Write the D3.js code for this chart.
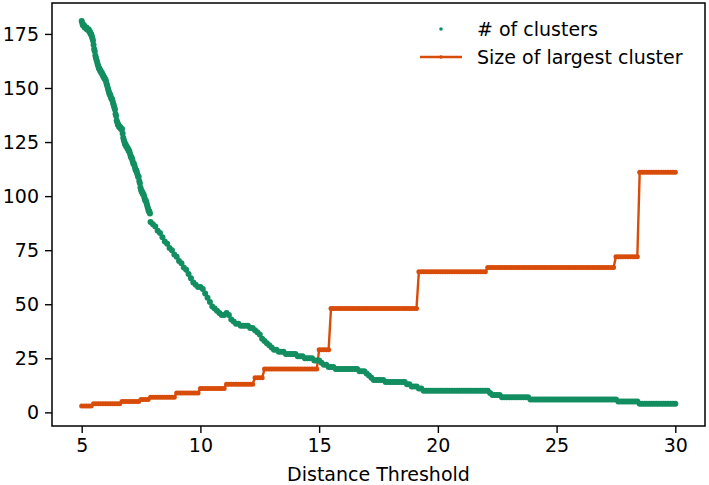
<!DOCTYPE html>
<html>
<head>
<meta charset="utf-8">
<script src="https://cdn.jsdelivr.net/npm/d3@7"></script>
<style>
  body { margin: 0; background: #fff; }
  #chart { width: 709px; height: 485px; }
  text { font-family: "DejaVu Sans", sans-serif; fill: #000; }
</style>
</head>
<body>
<div id="chart"></div>
<script>
// Distance thresholds: every 0.1 from 5 to 30 (largest cluster series)
let thresholds = d3.range(251).map(i => 5 + i / 10)

// Cluster counts are sampled finer where the curve is steep (5 - 7.875 every 0.025),
// then every 0.1 from 7.9 to 30
let countThresholds = d3.range(116).map(i => 5 + i * 0.025)
                        .concat(d3.range(222).map(i => 7.9 + i / 10))

// Number of clusters
let clusterCounts = [
  // 5.000 - 7.875, step 0.025
  181,180,179,179, 179,178,178,178, 178,177,177,177, 177,176,176,175,
  175,174,173,172, 170,168,167,165, 164,163,162,161, 160,159,159,158,
  158,157,157,156, 156,155,155,154, 154,153,152,151, 150,149,148,147,
  147,146,145,145, 144,143,142,141, 140,138,137,135, 134,133,133,132,
  132,132,131,131, 131,129,127,126, 125,124,124,123, 123,122,122,121,
  121,120,119,118, 118,117,116,115, 115,114,113,112, 112,111,110,109,
  109,107,106,104, 103,102,102,101, 101,100,99,98, 98,97,96,95,
  94,93,93,92,
  // 7.9 - 30.0, step 0.1
  88,
  87,86,84,83,81,79,78,76,75,73,
  72,70,69,67,66,64,62,60,59,58,
  58,57,55,53,51,49,48,47,46,45,
  45,46,45,43,42,41,41,40,40,40,
  40,39,39,38,37,36,34,33,32,31,
  30,29,29,28,28,28,27,27,27,27,
  27,26,26,26,25,25,25,25,24,24,
  24,23,22,22,21,21,21,20,20,20,
  20,20,20,20,20,20,20,19,19,19,
  18,17,16,15,15,15,15,15,14,14,
  14,14,14,14,14,14,14,13,13,12,
  12,12,11,11,10,10,10,10,10,10,
  10,10,10,10,10,10,10,10,10,10,
  10,10,10,10,10,10,10,10,10,10,
  10,10,9,8,8,8,8,7,7,7,
  7,7,7,7,7,7,7,7,7,6,
  6,6,6,6,6,6,6,6,6,6,
  6,6,6,6,6,6,6,6,6,6,
  6,6,6,6,6,6,6,6,6,6,
  6,6,6,6,6,6,5,5,5,5,
  5,5,5,5,5,4,4,4,4,4,
  4,4,4,4,4,4,4,4,4,4,
  4
]

// Size of the largest cluster at each threshold
let largestSizes = [
  3,3,3,3,3,4,4,4,4,4,
  4,4,4,4,4,4,4,5,5,5,
  5,5,5,5,5,6,6,6,6,7,
  7,7,7,7,7,7,7,7,7,7,
  9,9,9,9,9,9,9,9,9,9,
  11,11,11,11,11,11,11,11,11,11,
  11,13,13,13,13,13,13,13,13,13,
  13,13,13,16,16,16,16,20,20,20,
  20,20,20,20,20,20,20,20,20,20,
  20,20,20,20,20,20,20,20,20,20,
  29,29,29,29,29,48,48,48,48,48,
  48,48,48,48,48,48,48,48,48,48,
  48,48,48,48,48,48,48,48,48,48,
  48,48,48,48,48,48,48,48,48,48,
  48,48,65,65,65,65,65,65,65,65,
  65,65,65,65,65,65,65,65,65,65,
  65,65,65,65,65,65,65,65,65,65,
  65,67,67,67,67,67,67,67,67,67,
  67,67,67,67,67,67,67,67,67,67,
  67,67,67,67,67,67,67,67,67,67,
  67,67,67,67,67,67,67,67,67,67,
  67,67,67,67,67,67,67,67,67,67,
  67,67,67,67,67,72,72,72,72,72,
  72,72,72,72,72,111,111,111,111,111,
  111,111,111,111,111,111,111,111,111,111,
  111
]

let xTicks = [5, 10, 15, 20, 25, 30]
let yTicks = [0, 25, 50, 75, 100, 125, 150, 175]

let green = "#128e60"
let orange = "#d84c0a"

function makeChart() {
    let width = 709
    let height = 485
    let left = 52, right = 705, top = 3, bottom = 426

    const xScale = d3.scaleLinear().domain([3.75, 31.25]).range([left, right])
    const yScale = d3.scaleLinear().domain([-6.3, 189.3]).range([bottom, top])

    const svg = d3.select("#chart")
                .append("svg")
                .attr("width", width)
                .attr("height", height)

    // Orange step line with small markers
    let sizeData = thresholds.map((t, i) => [t, largestSizes[i]])
    const line = d3.line().x(d => xScale(d[0])).y(d => yScale(d[1]))

    svg.append("path")
       .datum(sizeData)
       .attr("d", line)
       .attr("fill", "none")
       .attr("stroke", orange)
       .attr("stroke-width", 2.4)

    svg.selectAll("circle.size")
       .data(sizeData)
       .enter()
       .append("circle")
       .attr("class", "size")
       .attr("cx", d => xScale(d[0]))
       .attr("cy", d => yScale(d[1]))
       .attr("r", 2.5)
       .attr("fill", orange)

    // Green dots: number of clusters
    let countData = countThresholds.map((t, i) => [t, clusterCounts[i]])
    svg.selectAll("circle.count")
       .data(countData)
       .enter()
       .append("circle")
       .attr("class", "count")
       .attr("cx", d => xScale(d[0]))
       .attr("cy", d => yScale(d[1]))
       .attr("r", 3)
       .attr("fill", green)

    // Axes
    const xAxis = d3.axisBottom(xScale).tickValues(xTicks).tickSize(7).tickPadding(6).tickFormat(d3.format("d"))
    const yAxis = d3.axisLeft(yScale).tickValues(yTicks).tickSize(7).tickPadding(6).tickFormat(d3.format("d"))

    let gx = svg.append("g")
       .attr("transform", "translate(0," + bottom + ")")
       .call(xAxis)
    let gy = svg.append("g")
       .attr("transform", "translate(" + left + ",0)")
       .call(yAxis)

    for (let g of [gx, gy]) {
        g.select(".domain").remove()
        g.selectAll(".tick line").attr("stroke", "#000").attr("stroke-width", 1.4)
        g.selectAll(".tick text").attr("font-size", 19).attr("font-family", "DejaVu Sans").attr("fill", "#000")
    }

    // Frame around the plot
    svg.append("rect")
       .attr("x", left)
       .attr("y", top)
       .attr("width", right - left)
       .attr("height", bottom - top)
       .attr("fill", "none")
       .attr("stroke", "#000")
       .attr("stroke-width", 1.5)

    // X axis label
    svg.append("text")
       .attr("x", xScale(17.5))
       .attr("y", 481)
       .attr("text-anchor", "middle")
       .attr("font-size", 19)
       .text("Distance Threshold")

    // Legend
    let legend = svg.append("g")
    legend.append("circle").attr("cx", 441).attr("cy", 29).attr("r", 1.8).attr("fill", green)
    legend.append("text").attr("x", 477).attr("y", 29).attr("dy", "0.35em").attr("font-size", 19).text("# of clusters")
    legend.append("line").attr("x1", 420).attr("x2", 462).attr("y1", 57).attr("y2", 57)
          .attr("stroke", orange).attr("stroke-width", 2.4)
    legend.append("circle").attr("cx", 441).attr("cy", 57).attr("r", 1.8).attr("fill", orange)
    legend.append("text").attr("x", 477).attr("y", 57).attr("dy", "0.35em").attr("font-size", 19).text("Size of largest cluster")
}

makeChart()
</script>
</body>
</html>
